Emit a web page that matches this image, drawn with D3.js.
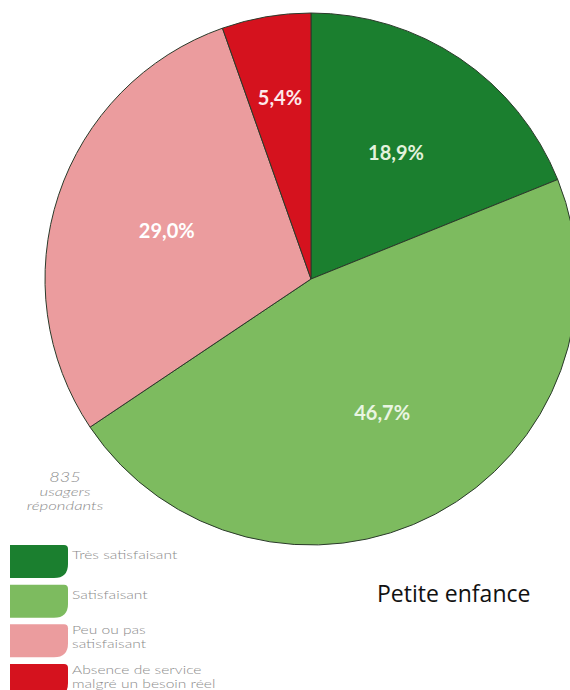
<!DOCTYPE html>
<html><head><meta charset="utf-8">
<script src="https://cdn.jsdelivr.net/npm/d3@7"></script>
<style>body{margin:0;background:#fff}svg{display:block}</style>
</head><body>
<script>
const categories = ["Très satisfaisant", "Satisfaisant", "Peu ou pas satisfaisant", "Absence de service malgré un besoin réel"];
const legendLines = [["Très satisfaisant"], ["Satisfaisant"], ["Peu ou pas", "satisfaisant"], ["Absence de service", "malgré un besoin réel"]];
const values = [18.9, 46.7, 29.0, 5.4];
const valueLabels = ["18,9%", "46,7%", "29,0%", "5,4%"];
const colors = ["#1b7f2f", "#7dbb5f", "#eb9c9e", "#d5121e"];
const labelColors = ["#e3f2dc", "#e9f5e2", "#ffffff", "#fde9ea"];
const respondents = ["835", "usagers", "répondants"];
const title = "Petite enfance";

const W = 570, H = 690;
const svg = d3.select("body").append("svg").attr("width", W).attr("height", H);

const cx = 311, cy = 279, R = 266;
const pie = d3.pie().sort(null).value(d => d)(values);
const arc = d3.arc().innerRadius(0).outerRadius(R);
const labelArc = d3.arc()
  .innerRadius(d => (d.endAngle - d.startAngle) < 0.5 ? 184 : 152)
  .outerRadius(d => (d.endAngle - d.startAngle) < 0.5 ? 184 : 152);

const g = svg.append("g").attr("transform", `translate(${cx},${cy})`);
g.selectAll("path").data(pie).join("path")
  .attr("d", arc)
  .attr("fill", (d, i) => colors[i])
  .attr("stroke", "#2a3a2a")
  .attr("stroke-width", 1);

g.selectAll("text.v").data(pie).join("text")
  .attr("class", "v")
  .attr("transform", d => `translate(${labelArc.centroid(d)})`)
  .attr("text-anchor", "middle")
  .attr("dy", "0.35em")
  .attr("fill", (d, i) => labelColors[i])
  .style("font-family", "Lato, 'Open Sans', sans-serif")
  .style("font-weight", "700")
  .style("font-size", "20px")
  .text((d, i) => valueLabels[i]);

// respondents note
svg.append("g")
  .attr("transform", "translate(65,0) scale(1.4,1)")
  .selectAll("text").data(respondents).join("text")
  .attr("x", 0)
  .attr("y", (d, i) => 482 + i * 14)
  .attr("text-anchor", "middle")
  .attr("fill", "#8e8e8e")
  .style("font-family", "Lato, sans-serif")
  .style("font-style", "italic")
  .style("font-weight", "300")
  .style("font-size", (d, i) => i === 0 ? "13px" : "12px")
  .text(d => d);

// legend
const legY = d3.scaleBand().domain(d3.range(categories.length)).range([545, 697]).paddingInner(0.17).paddingOuter(0);
const sw = 58, rr = 14;
const lg = svg.append("g").selectAll("g").data(categories).join("g")
  .attr("transform", (d, i) => `translate(10,${legY(i)})`);
lg.append("path")
  .attr("d", () => {
    const h = legY.bandwidth();
    return `M0,0 H${sw - 4} Q${sw},0 ${sw},4 V${h - rr} Q${sw},${h} ${sw - rr},${h} H0 Z`;
  })
  .attr("fill", (d, i) => colors[i]);
lg.each(function(d, i) {
  const lines = legendLines[i];
  const t = d3.select(this).append("text")
    .attr("transform", `translate(${sw + 4},0) scale(1.3,1)`)
    .attr("fill", "#8c8c8c")
    .style("font-family", "Lato, sans-serif")
    .style("font-weight", "300")
    .style("font-size", "12px");
  lines.forEach((ln, j) => {
    t.append("tspan").attr("x", 0)
      .attr("y", lines.length === 1 ? 14 : 10 + j * 13.5)
      .text(ln);
  });
});

svg.append("text")
  .attr("x", 377).attr("y", 602)
  .attr("fill", "#111")
  .style("font-family", "'Open Sans', sans-serif")
  .style("font-size", "23px")
  .text(title);
</script>
</body></html>
